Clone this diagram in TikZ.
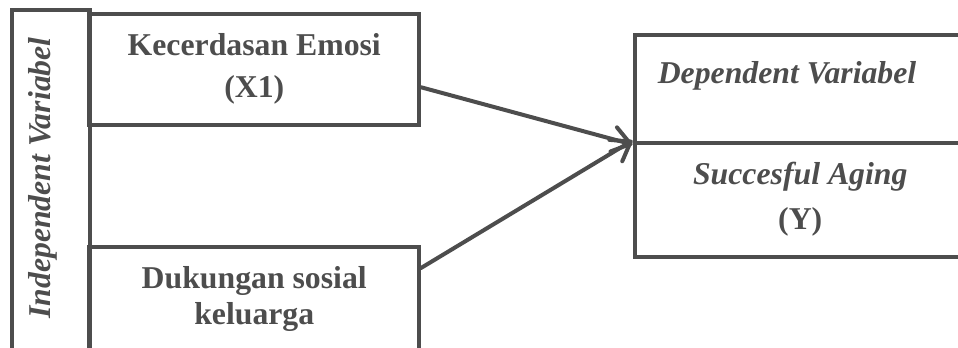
\documentclass[tikz,border=0pt]{standalone}
\usepackage{fontspec}
\setmainfont{Liberation Serif}
\usetikzlibrary{arrows.meta}
\definecolor{linegray}{RGB}{77,77,77}

\begin{document}
\begin{tikzpicture}[x=0.4pt,y=-0.4pt,
    varbox/.style={draw=linegray, line width=1.6pt, inner sep=0pt, text=linegray,
        font=\fontsize{12.7}{14.4}\selectfont\bfseries, align=center},
    vartext/.style={inner sep=0pt, text=linegray,
        font=\fontsize{12.7}{14.4}\selectfont\bfseries\itshape},
    link/.style={draw=linegray, line width=1.6pt, line cap=round,
        -{Straight Barb[length=7pt,width=10pt,round]}}]
    %%%%% START %%%%%

    \useasboundingbox (0,0) rectangle (958,347);
    \clip (0,0) rectangle (958,347);

    % independent side
    \node[varbox, minimum width=31pt, minimum height=136pt] (indep) at (50.75, 180) {};
    \node[vartext, rotate=90, anchor=base] (indeplabel) at (50, 178) {Independent Variabel};

    \node[varbox, minimum width=131.8pt, minimum height=44.2pt] (emosi) at (254.25, 69.25)
        {Kecerdasan Emosi\\[2.4pt](X1)};
    \node[varbox, minimum width=131.8pt, minimum height=41.2pt] (sosial) at (254.25, 298.5)
        {Dukungan sosial\\keluarga};

    % dependent side
    \node[varbox, minimum width=132.6pt, minimum height=43.2pt] (dep) at (800.25, 88.5) {};
    \node[vartext, anchor=base] (deplabel) at (787, 83) {Dependent Variabel};
    \node[varbox, minimum width=132.6pt, minimum height=45.6pt] (aging) at (800.25, 199.5)
        {\itshape Succesful Aging\\[3.6pt](Y)};

    \draw[link] ([yshift=-7.2pt]emosi.east) -- (dep.south west);
    \draw[link] ([yshift=-9.2pt]sosial.north east) -- (aging.north west);

    %%%%% END %%%%%
\end{tikzpicture}
\end{document}
